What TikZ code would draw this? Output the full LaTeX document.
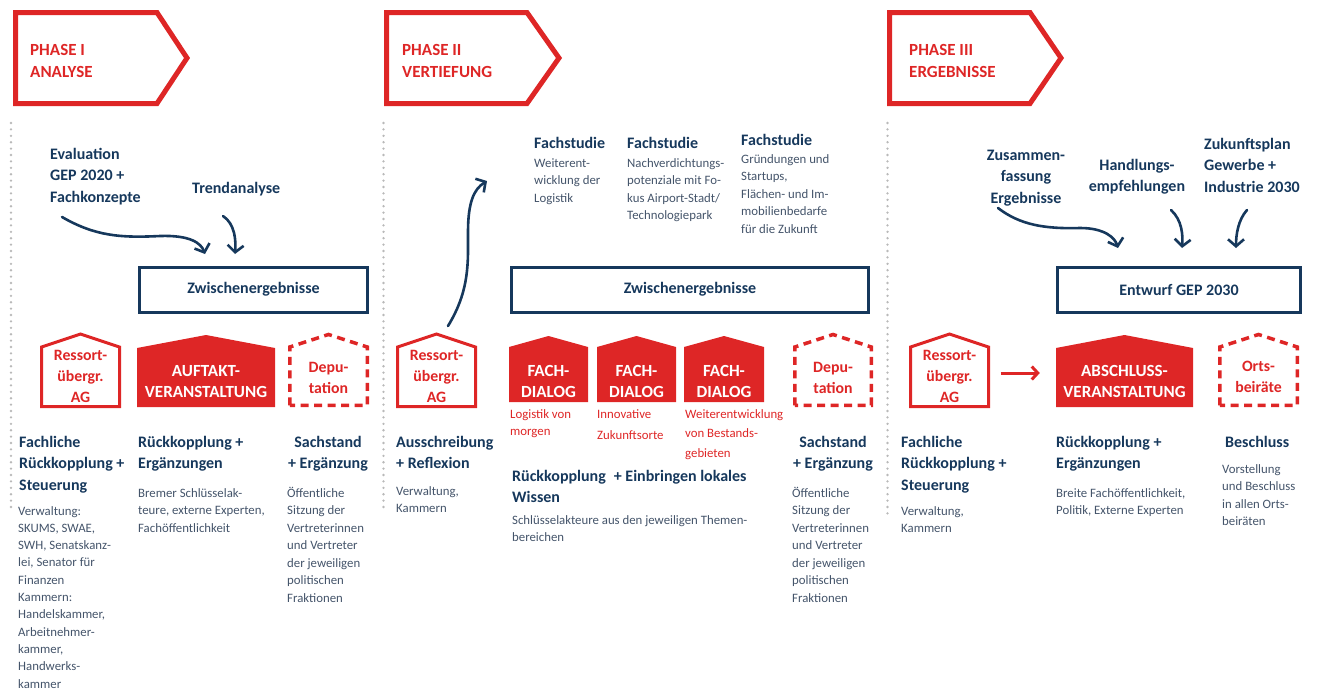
\documentclass[tikz,border=0pt]{standalone}
\usepackage{fontspec}
\setmainfont{Carlito}
\usetikzlibrary{arrows.meta}
\definecolor{rd}{RGB}{222,38,38}
\definecolor{nv}{RGB}{22,56,92}
\definecolor{tx}{RGB}{68,84,106}
\definecolor{dotc}{RGB}{185,185,185}
\begin{document}
\begin{tikzpicture}[x=1pt,y=-1pt,
  phase/.style={draw=rd,line width=5pt,line join=miter},
  phasetxt/.style={text=rd,font=\fontsize{17}{22}\selectfont\bfseries,align=left,anchor=base west,inner sep=0},
  sep/.style={dotc,line width=2.6pt,line cap=round,dash pattern=on 0pt off 6.4pt},
  zbox/.style={draw=nv,line width=3pt,minimum height=45pt,inner sep=0,font=\fontsize{16}{20}\selectfont\bfseries,text=nv},
  head/.style={text=nv,font=\fontsize{16}{21.5}\selectfont\bfseries,align=left,anchor=base west,inner sep=0},
  headc/.style={head,align=center,anchor=base},
  body/.style={text=tx,font=\fontsize{12.8}{17.5}\selectfont,align=left,anchor=base west,inner sep=0},
  hopen/.style={draw=rd,line width=3pt,line join=miter},
  hfill/.style={fill=rd},
  hdash/.style={draw=rd,line width=3.5pt,dash pattern=on 8pt off 5.5pt},
  htxt/.style={text=rd,font=\fontsize{15.8}{21}\selectfont\bfseries,align=center,anchor=base,inner sep=0},
  hwtxt/.style={text=white,font=\fontsize{17}{21}\selectfont\bfseries,align=center,anchor=base,inner sep=0},
  rtxt/.style={text=rd,font=\fontsize{12.8}{17.5}\selectfont,align=left,anchor=base west,inner sep=0},
  hbody/.style={inner sep=0,minimum height=62pt},
  flow/.style={nv,line width=2.6pt,line cap=round,-{Straight Barb[length=7pt,width=16pt]}},
  redarrow/.style={rd,line width=3pt,-{Straight Barb[length=6pt,width=13pt]}},
]
\useasboundingbox (0,0) rectangle (1317,691);

% (multi-line nodes are placed at the baseline of their LAST line)

% ---------- phase arrows ----------
\draw[phase] (15.5,12.5) -- (157,12.5) -- (187,58) -- (157,103.5) -- (15.5,103.5) -- cycle;
\draw[phase] (386.5,12.5) -- (527,12.5) -- (559,58) -- (527,103.5) -- (386.5,103.5) -- cycle;
\draw[phase] (889.5,12.5) -- (1030,12.5) -- (1061,58) -- (1030,103.5) -- (889.5,103.5) -- cycle;
\node[phasetxt] (p1) at (30,77) {PHASE I\\ANALYSE};
\node[phasetxt] (p2) at (402,77) {PHASE II\\VERTIEFUNG};
\node[phasetxt] (p3) at (909,77) {PHASE III\\ERGEBNISSE};

% ---------- separators ----------
\draw[sep] (11,123) -- (11,510);
\draw[sep] (383.5,123) -- (383.5,510);
\draw[sep] (887.5,123) -- (887.5,519);

% ---------- phase I top ----------
\node[head] (eval) at (50,202) {Evaluation\\GEP 2020 +\\Fachkonzepte};
\node[head] (trend) at (192,193) {Trendanalyse};
\node[zbox,minimum width=228pt] (z1) at (253.5,289.5) {Zwischenergebnisse};
\coordinate (e1s) at (62,217);
\coordinate (e1t) at (205,254);
\coordinate (t1s) at (223,216);
\coordinate (t1t) at (235,254);
\draw[flow] (e1s) .. controls (95,236) and (120,238) .. (160,236) .. controls (190,235) and (201,243) .. (e1t);
\draw[flow] (t1s) .. controls (235,224) and (236,240) .. (t1t);

% ---------- phase II top ----------
\node[head] (fs1) at (534,148) {Fachstudie};
\node[body] (fs1b) at (534,202) {Weiterent-\\wicklung der\\Logistik};
\node[head] (fs2) at (627,148) {Fachstudie};
\node[body] (fs2b) at (627,219.5) {Nachverdichtungs-\\potenziale mit Fo-\\kus Airport-Stadt/\\Technologiepark};
\node[head] (fs3) at (741,145) {Fachstudie};
\node[body] (fs3b) at (741,233) {Gründungen und\\Startups,\\Flächen- und Im-\\mobilienbedarfe\\für die Zukunft};
\node[zbox,minimum width=357pt] (z2) at (690,289.5) {Zwischenergebnisse};
\coordinate (a2s) at (448,326);
\coordinate (a2t) at (487,181);
\draw[flow] (a2s) .. controls (470,290) and (468,262) .. (468,232) .. controls (468,202) and (474,189) .. (a2t);

% ---------- phase III top ----------
\node[headc] (zus) at (1026,203) {Zusammen-\\fassung\\Ergebnisse};
\node[headc] (hand) at (1137,191.5) {Handlungs-\\empfehlungen};
\node[head] (zuk) at (1204,192) {Zukunftsplan\\Gewerbe +\\Industrie 2030};
\node[zbox,minimum width=243pt] (z3) at (1179,289.5) {Entwurf GEP 2030};
\coordinate (z3s) at (998,208);
\coordinate (z3t) at (1118,248);
\coordinate (h3s) at (1171,210);
\coordinate (h3t) at (1182,248);
\coordinate (k3s) at (1247,210);
\coordinate (k3t) at (1236,248);
\draw[flow] (z3s) .. controls (1020,225) and (1045,229) .. (1080,228) .. controls (1105,228) and (1115,238) .. (z3t);
\draw[flow] (h3s) .. controls (1182,220) and (1183,235) .. (h3t);
\draw[flow] (k3s) .. controls (1238,220) and (1236,235) .. (k3t);

% ---------- houses ----------
\draw[hopen] (41.5,406.5) -- (41.5,347) -- (80.5,334) -- (119.5,347) -- (119.5,406.5) -- cycle;
\node[htxt] (r1) at (80.5,402) {Ressort-\\übergr.\\AG};
\fill[hfill] (137,407) -- (137,348) -- (206,335) -- (275,348) -- (275,407) -- cycle;
\node[hwtxt] (auf) at (206,397) {AUFTAKT-\\VERANSTALTUNG};
\draw[hdash] (289.75,405.25) -- (289.75,347) -- (328.5,334.5) -- (367.25,347) -- (367.25,405.25) -- cycle;
\node[htxt] (d1) at (328.5,393) {Depu-\\tation};

\draw[hopen] (397.5,406.5) -- (397.5,347) -- (436.5,334) -- (475.5,347) -- (475.5,406.5) -- cycle;
\node[htxt] (r2) at (436.5,402) {Ressort-\\übergr.\\AG};
\fill[hfill] (509,402) -- (509,347) -- (548.5,336) -- (588,347) -- (588,402) -- cycle;
\fill[hfill] (597,402) -- (597,347) -- (636.5,336) -- (676,347) -- (676,402) -- cycle;
\fill[hfill] (684,402) -- (684,347) -- (724,336) -- (764,347) -- (764,402) -- cycle;
\node[hwtxt] (fd1) at (548.5,397) {FACH-\\DIALOG};
\node[hwtxt] (fd2) at (636.5,397) {FACH-\\DIALOG};
\node[hwtxt] (fd3) at (724,397) {FACH-\\DIALOG};
\node[rtxt] (fd1t) at (510,435.5) {Logistik von\\morgen};
\node[rtxt,font=\fontsize{12.8}{21}\selectfont] (fd2t) at (597,439) {Innovative\\Zukunftsorte};
\node[rtxt,font=\fontsize{12.8}{19.5}\selectfont] (fd3t) at (685,457) {Weiterentwicklung\\von Bestands-\\gebieten};
\draw[hdash] (794.75,405.25) -- (794.75,347) -- (833,334.5) -- (871.25,347) -- (871.25,405.25) -- cycle;
\node[htxt] (d2) at (833,393) {Depu-\\tation};

\draw[hopen] (910.5,406.5) -- (910.5,347) -- (949.5,334) -- (988.5,347) -- (988.5,406.5) -- cycle;
\node[htxt] (r3) at (949.5,402) {Ressort-\\übergr.\\AG};
\fill[hfill] (1056,407) -- (1056,348) -- (1124.5,335) -- (1193,348) -- (1193,407) -- cycle;
\node[hwtxt] (abs) at (1124.5,397) {ABSCHLUSS-\\VERANSTALTUNG};
\draw[hdash] (1219.75,405.25) -- (1219.75,347) -- (1258.5,334.5) -- (1297.25,347) -- (1297.25,405.25) -- cycle;
\node[htxt] (ort) at (1258.5,392) {Orts-\\beiräte};

\node[hbody,minimum width=78pt] (hr3) at (949.5,377) {};
\node[hbody,minimum width=137pt] (hab) at (1124.5,377) {};
\draw[redarrow] ([yshift=4pt,xshift=12pt]hr3.east) -- ([yshift=4pt,xshift=-16pt]hab.west);

% ---------- bottom texts phase I ----------
\node[head] (c1h) at (19,490) {Fachliche\\Rückkopplung +\\Steuerung};
\node[body,font=\fontsize{12.8}{17.3}\selectfont] (c1b) at (18,688) {Verwaltung:\\SKUMS, SWAE,\\SWH, Senatskanz-\\lei, Senator für\\Finanzen\\Kammern:\\Handelskammer,\\Arbeitnehmer-\\kammer,\\Handwerks-\\kammer};
\node[head] (c2h) at (138,468.5) {Rückkopplung +\\Ergänzungen};
\node[body] (c2b) at (138,532) {Bremer Schlüsselak-\\teure, externe Experten,\\Fachöffentlichkeit};
\node[headc] (c3h) at (328,468.5) {Sachstand\\+ Ergänzung};
\node[body] (c3b) at (287,602) {Öffentliche\\Sitzung der\\Vertreterinnen\\und Vertreter\\der jeweiligen\\politischen\\Fraktionen};

% ---------- bottom texts phase II ----------
\node[head] (c4h) at (396,468.5) {Ausschreibung\\+ Reflexion};
\node[body] (c4b) at (396,512.5) {Verwaltung,\\Kammern};
\node[head] (c5h) at (512,502.5) {Rückkopplung\enspace+ Einbringen lokales\\Wissen};
\node[body] (c5b) at (512,541.5) {Schlüsselakteure aus den jeweiligen Themen-\\bereichen};
\node[headc] (c6h) at (833,468.5) {Sachstand\\+ Ergänzung};
\node[body] (c6b) at (792,602) {Öffentliche\\Sitzung der\\Vertreterinnen\\und Vertreter\\der jeweiligen\\politischen\\Fraktionen};

% ---------- bottom texts phase III ----------
\node[head] (c7h) at (901,490) {Fachliche\\Rückkopplung +\\Steuerung};
\node[body] (c7b) at (901,532.5) {Verwaltung,\\Kammern};
\node[head] (c8h) at (1056,468.5) {Rückkopplung +\\Ergänzungen};
\node[body] (c8b) at (1056,514.5) {Breite Fachöffentlichkeit,\\Politik, Externe Experten};
\node[head] (c9h) at (1225,447) {Beschluss};
\node[body] (c9b) at (1222,525.5) {Vorstellung\\und Beschluss\\in allen Orts-\\beiräten};
\end{tikzpicture}
\end{document}
